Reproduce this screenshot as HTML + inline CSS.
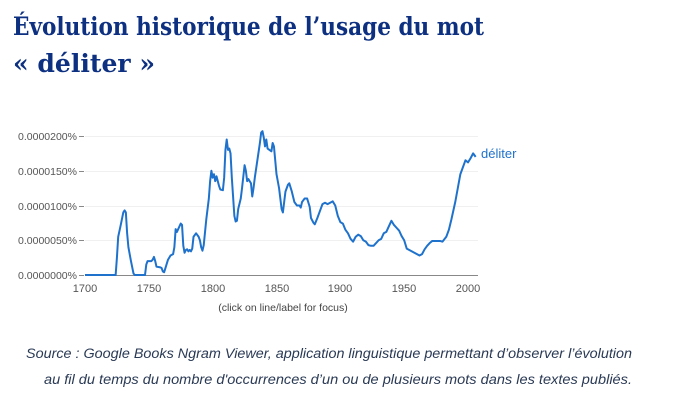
<!DOCTYPE html>
<html><head><meta charset="utf-8"><style>
html,body{margin:0;padding:0;background:#fff;}
svg{display:block;}
</style></head><body>
<svg width="680" height="411" xmlns="http://www.w3.org/2000/svg">
<text x="13" y="35" font-family="'DejaVu Serif','Liberation Serif',serif" font-weight="bold" font-size="25" fill="#0d3080" textLength="471" lengthAdjust="spacingAndGlyphs">Évolution historique de l’usage du mot</text>
<text x="13" y="72" font-family="'DejaVu Serif','Liberation Serif',serif" font-weight="bold" font-size="25" fill="#0d3080" textLength="142" lengthAdjust="spacingAndGlyphs">« déliter »</text>

<g stroke="#f0f0f0" stroke-width="1">
<line x1="85" y1="136.5" x2="478" y2="136.5"/>
<line x1="85" y1="171.5" x2="478" y2="171.5"/>
<line x1="85" y1="206.5" x2="478" y2="206.5"/>
<line x1="85" y1="240.5" x2="478" y2="240.5"/>
</g>
<g stroke="#888" stroke-width="1">
<line x1="85" y1="275.5" x2="478" y2="275.5"/>
<line x1="79" y1="136.5" x2="84" y2="136.5"/>
<line x1="79" y1="171.5" x2="84" y2="171.5"/>
<line x1="79" y1="206.5" x2="84" y2="206.5"/>
<line x1="79" y1="240.5" x2="84" y2="240.5"/>
<line x1="79" y1="275.5" x2="84" y2="275.5"/>
</g>
<g font-family="'Liberation Sans',sans-serif" font-size="10.5" fill="#555" text-anchor="end">
<text x="77" y="140">0.0000200%</text>
<text x="77" y="175">0.0000150%</text>
<text x="77" y="210">0.0000100%</text>
<text x="77" y="244">0.0000050%</text>
<text x="77" y="279">0.0000000%</text>
</g>
<g font-family="'Liberation Sans',sans-serif" font-size="11" fill="#555" text-anchor="middle">
<text x="85" y="292">1700</text>
<text x="149" y="292">1750</text>
<text x="213" y="292">1800</text>
<text x="277" y="292">1850</text>
<text x="340" y="292">1900</text>
<text x="404" y="292">1950</text>
<text x="468" y="292">2000</text>
<text x="283" y="311" font-size="10.5" fill="#444">(click on line/label for focus)</text>
</g>
<g transform="translate(85,275) scale(1.2767,-0.695)">
<path fill="none" stroke="#1f72cc" stroke-width="2" vector-effect="non-scaling-stroke" stroke-linejoin="round" d="M0 0 L24 0 25 25 26 55 28 72 30 90 31 93 32 90 33 60 34 40 36 20 38 2 39 0 47 0 48 15 49 20 52 20 53 22 54 26 55 20 56 12 59 11 60 10 61 5 62 4 63 10 65 22 67 28 69 30 70 40 71 66 72 62 74 70 75 74 76 72 77 42 78 32 79 36 80 37 81 34 82 36 83 34 84 38 85 55 87 60 89 55 90 50 91 40 92 35 93 43 95 80 97 110 98 135 99 150 100 140 101 145 102 135 103 142 105 128 106 123 108 122 109 140 110 180 111 195 112 180 113 182 114 175 115 140 117 85 118 77 119 78 120 95 122 110 123 125 125 158 126 150 127 135 128 138 130 132 131 113 132 125 133 140 135 165 137 190 138 205 139 207 140 198 141 185 142 195 143 182 146 178 147 190 148 185 150 145 152 125 154 95 155 90 157 120 159 130 160 132 162 120 164 105 166 100 168 100 169 97 170 105 172 110 174 110 176 98 177 82 179 75 180 73 182 82 184 92 186 102 188 104 190 102 192 104 194 106 196 100 198 85 200 76 202 74 204 65 206 60 208 52 210 48 212 55 214 58 216 56 218 50 220 48 222 43 224 42 226 42 228 46 230 50 232 52 234 60 236 62 238 70 240 78 242 72 244 68 246 64 248 56 250 50 252 38 254 36 256 34 258 32 260 30 262 28 264 30 266 37 268 42 270 46 272 49 275 49 278 49 280 48 283 55 285 65 287 80 290 105 292 125 294 145 296 155 298 165 300 162 302 168 304 175 306 170"/>
</g>
<text x="481" y="158" font-family="'Liberation Sans',sans-serif" font-size="13" fill="#1f72cc">déliter</text>

<g font-family="'Liberation Sans',sans-serif" font-style="italic" font-size="13.5" fill="#2a3a55">
<text x="26" y="358" textLength="606" lengthAdjust="spacingAndGlyphs">Source : Google Books Ngram Viewer, application linguistique permettant d’observer l’évolution</text>
<text x="44" y="384" textLength="588" lengthAdjust="spacingAndGlyphs">au fil du temps du nombre d'occurrences d’un ou de plusieurs mots dans les textes publiés.</text>
</g>
</svg>
</body></html>
